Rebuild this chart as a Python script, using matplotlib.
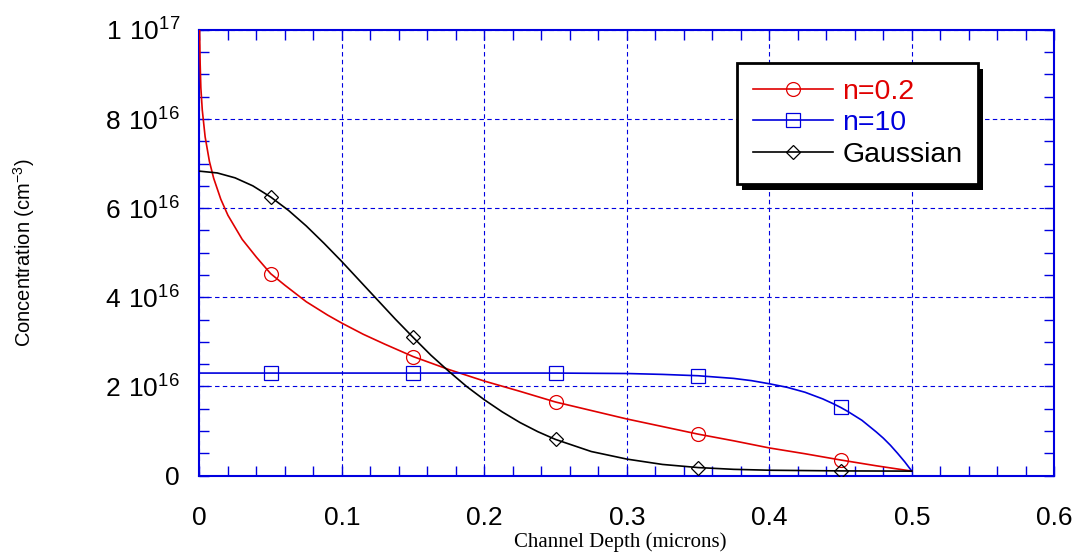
import matplotlib
matplotlib.use('Agg')
import matplotlib.pyplot as plt
from matplotlib.patches import Rectangle
from matplotlib.transforms import IdentityTransform
from matplotlib.ticker import MultipleLocator, FixedLocator, FixedFormatter

plt.rcParams['font.family'] = ['Liberation Sans', 'DejaVu Sans']
plt.rcParams['mathtext.fontset'] = 'custom'
plt.rcParams['mathtext.rm'] = 'Liberation Sans'

#%% data (concentration in units of 1e16 cm^-3)
x_n02 = [0, 0.0005, 0.001, 0.002, 0.004, 0.007, 0.01, 0.015, 0.02, 0.03, 0.04, 0.05,
         0.06, 0.075, 0.09, 0.1, 0.115, 0.13, 0.15, 0.175, 0.2, 0.225, 0.25, 0.275,
         0.3, 0.325, 0.35, 0.375, 0.4, 0.425, 0.45, 0.475, 0.5]
y_n02 = [10.2, 9.25, 8.7, 8.2, 7.6, 7.05, 6.67, 6.2, 5.84, 5.3, 4.9, 4.53,
         4.27, 3.9, 3.6, 3.42, 3.17, 2.95, 2.67, 2.38, 2.12, 1.89, 1.65, 1.46,
         1.27, 1.1, 0.93, 0.78, 0.62, 0.49, 0.35, 0.22, 0.1]

x_n10 = [0, 0.05, 0.15, 0.25, 0.3, 0.325, 0.35, 0.3625, 0.375, 0.3875, 0.4, 0.4125,
         0.425, 0.4375, 0.445, 0.45, 0.455, 0.46, 0.465, 0.47, 0.475, 0.48, 0.485,
         0.49, 0.495, 0.5]
y_n10 = [2.3, 2.3, 2.3, 2.3, 2.29, 2.27, 2.24, 2.21, 2.18, 2.13, 2.06, 1.98,
         1.87, 1.72, 1.61, 1.53, 1.44, 1.34, 1.24, 1.11, 0.98, 0.84, 0.68,
         0.5, 0.31, 0.1]

x_gauss = [0, 0.0125, 0.025, 0.0375, 0.05, 0.0625, 0.075, 0.0875, 0.1, 0.1125, 0.125,
           0.1375, 0.15, 0.1625, 0.175, 0.1875, 0.2, 0.2125, 0.225, 0.2375, 0.25,
           0.275, 0.3, 0.325, 0.35, 0.375, 0.4, 0.45, 0.5]
y_gauss = [6.83, 6.79, 6.68, 6.5, 6.25, 5.95, 5.6, 5.21, 4.8, 4.37, 3.94,
           3.51, 3.1, 2.7, 2.34, 2.0, 1.7, 1.43, 1.19, 0.985, 0.81,
           0.54, 0.37, 0.25, 0.18, 0.14, 0.12, 0.105, 0.1]

mark_x = [0.05, 0.15, 0.25, 0.35, 0.45]

y_ticks = [0, 2e16, 4e16, 6e16, 8e16, 1e17]
y_ticklabels = ['0', r'$\mathregular{2\ 10^{16}}$', r'$\mathregular{4\ 10^{16}}$',
                r'$\mathregular{6\ 10^{16}}$', r'$\mathregular{8\ 10^{16}}$',
                r'$\mathregular{1\ 10^{17}}$']
x_ticks = [0, 0.1, 0.2, 0.3, 0.4, 0.5, 0.6]
x_ticklabels = ['0', '0.1', '0.2', '0.3', '0.4', '0.5', '0.6']

#%% figure
fig = plt.figure(figsize=(10.78, 5.53), dpi=100)
ax = fig.add_axes([0.185, 0.140, 0.793, 0.806])

def marks(xs):
    return [i for i, v in enumerate(xs) if round(v, 4) in mark_x]

ax.plot(x_n02, [v * 1e16 for v in y_n02], color='#e00000', lw=1.2, marker='o', ms=10,
        mfc='none', mec='#e00000', mew=0.9, markevery=marks(x_n02), label='n=0.2', zorder=3)
ax.plot(x_n10, [v * 1e16 for v in y_n10], color='#0000dd', lw=1.2, marker='s', ms=10,
        mfc='none', mec='#0000dd', mew=0.9, markevery=marks(x_n10), label='n=10', zorder=3)
ax.plot(x_gauss, [v * 1e16 for v in y_gauss], color='black', lw=1.2, marker='D', ms=7,
        mfc='none', mec='black', mew=0.9, markevery=marks(x_gauss), label='Gaussian', zorder=3)

ax.set_xlim(0, 0.6)
ax.set_ylim(0, 1e17)
ax.xaxis.set_major_locator(FixedLocator(x_ticks))
ax.xaxis.set_major_formatter(FixedFormatter(x_ticklabels))
ax.xaxis.set_minor_locator(MultipleLocator(0.02))
ax.yaxis.set_major_locator(FixedLocator(y_ticks))
ax.yaxis.set_major_formatter(FixedFormatter(y_ticklabels))
ax.yaxis.set_minor_locator(MultipleLocator(5e15))

for s in ax.spines.values():
    s.set_color('#0000e0')
    s.set_linewidth(1.5)
ax.tick_params(which='both', direction='in', top=True, right=True, color='#0000e0', width=1)
ax.tick_params(which='major', length=7)
ax.tick_params(which='minor', length=7)
ax.tick_params(axis='x', which='major', labelsize=19, pad=22)
ax.tick_params(axis='y', which='major', labelsize=19, pad=14)

ax.grid(True, which='major', color='#0000e0', lw=0.8, linestyle=(0, (4, 3)))

ax.set_xlabel('Channel Depth (microns)', family='Liberation Serif', fontsize=15, labelpad=0)
ax.xaxis.set_label_coords(0.492, -0.128)
ax.set_ylabel(r'Concentration (cm$^{\mathregular{-3}}$)', fontsize=14.5)
ax.yaxis.set_label_coords(-0.19, 0.5)

leg = ax.legend(loc='upper left', bbox_to_anchor=(0.629, 0.926), borderaxespad=0,
                fontsize=20.5, labelcolor='linecolor', fancybox=False, framealpha=1,
                edgecolor='black', handlelength=2.8, handletextpad=0.35, borderpad=0.55,
                labelspacing=0.2, numpoints=1)
leg.get_frame().set_linewidth(2)
leg.set_zorder(6)

fig.canvas.draw()
bb = leg.get_window_extent()
shadow = Rectangle((bb.x0 + 5, bb.y0 - 6), bb.width, bb.height, transform=IdentityTransform(),
                   facecolor='black', edgecolor='none', zorder=5.9, clip_on=False)
ax.add_artist(shadow)

fig.savefig('out.png', dpi=100)
